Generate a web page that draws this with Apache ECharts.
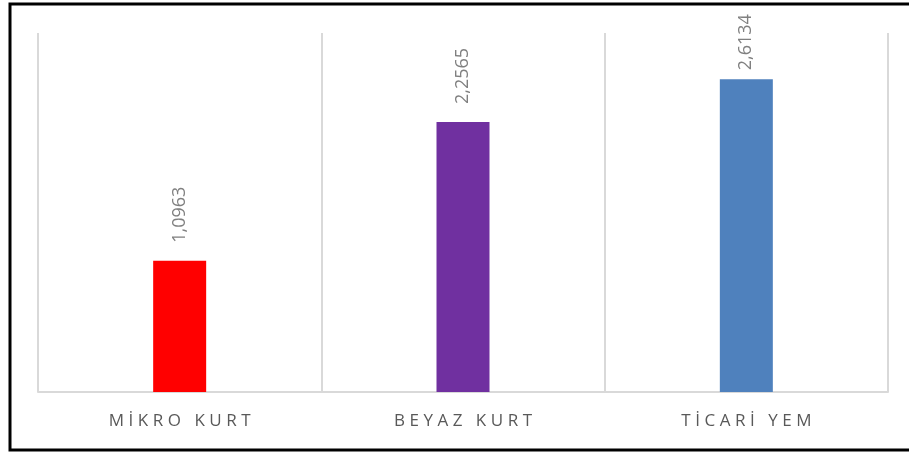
<!DOCTYPE html>
<html>
<head>
<meta charset="utf-8">
<script src="https://cdn.jsdelivr.net/npm/echarts@6/dist/echarts.min.js"></script>
<style>
  html, body { margin: 0; padding: 0; background: #ffffff; }
  #chart { width: 909px; height: 453px; }
</style>
</head>
<body>
<div id="chart"></div>
<script>
// Feed type categories and measured values
const categories = ['MİKRO KURT', 'BEYAZ KURT', 'TİCARİ YEM'];
const values = [1.0963, 2.2565, 2.6134];
const barColors = ['#ff0000', '#7030a0', '#4f81bd'];

// Widen letters a little, like the spaced-out axis captions
function spaced(s) {
  return s.split('').join('\u2009\u200a');
}

const chart = echarts.init(document.getElementById('chart'), null, { renderer: 'canvas' });

chart.setOption({
  backgroundColor: '#ffffff',
  animation: false,
  grid: { left: 38, right: 21, top: 33, bottom: 61, containLabel: false },
  xAxis: {
    type: 'category',
    data: categories,
    boundaryGap: true,
    axisLine: { show: true, lineStyle: { color: '#d9d9d9', width: 2 } },
    axisTick: { show: false },
    splitLine: { show: true, lineStyle: { color: '#d9d9d9', width: 2 } },
    axisLabel: {
      margin: 21,
      color: '#595959',
      fontFamily: 'Open Sans',
      fontSize: 17,
      formatter: spaced
    }
  },
  yAxis: {
    type: 'value',
    min: 0,
    max: 3,
    show: false,
    splitLine: { show: false }
  },
  series: [{
    type: 'bar',
    barWidth: 53,
    data: values.map((v, i) => {
      const item = { value: v, itemStyle: { color: barColors[i] } };
      // the tallest bar's label sits closer so it stays inside the frame
      if (i === values.length - 1) item.label = { distance: 9 };
      return item;
    }),
    label: {
      show: true,
      position: 'top',
      rotate: 90,
      align: 'left',
      verticalAlign: 'middle',
      distance: 18,
      color: '#808080',
      fontFamily: 'Open Sans',
      fontSize: 18,
      formatter: p => p.value.toFixed(4).replace('.', ',')
    }
  }],
  graphic: [{
    type: 'rect',
    silent: true,
    shape: { x: 10, y: 4, width: 920, height: 446 },
    style: { fill: 'none', stroke: '#000000', lineWidth: 3 },
    z: 100
  }]
});
</script>
</body>
</html>
